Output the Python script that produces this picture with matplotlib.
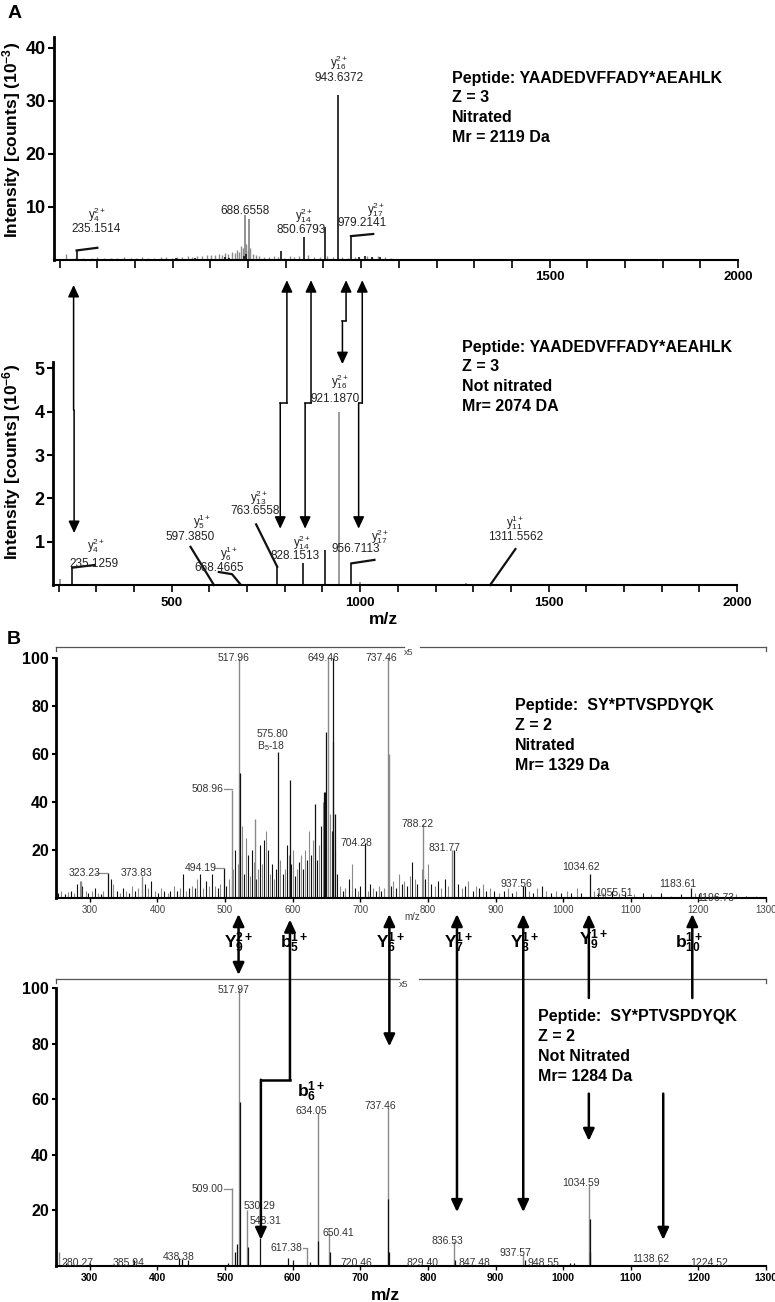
import numpy as np
import matplotlib.pyplot as plt
from matplotlib.lines import Line2D
from matplotlib.patches import FancyArrowPatch

plt.rcParams['font.family'] = ['Liberation Sans', 'DejaVu Sans']
plt.rcParams['mathtext.fontset'] = 'custom'
plt.rcParams['mathtext.rm'] = 'Liberation Sans'
plt.rcParams['mathtext.bf'] = 'Liberation Sans:bold'
plt.rcParams['mathtext.it'] = 'Liberation Sans:italic'
plt.rcParams['mathtext.default'] = 'regular'

# ---------------- panel A, top : nitrated peptide (10^-3 counts)
a_top_mz = [245, 508, 560, 640, 650, 688, 695, 787, 848, 904, 939, 973, 993, 1010, 1030, 1050]
a_top_h = [1.8, 0.4, 0.3, 0.5, 0.4, 0.8, 1.2, 1.7, 4.4, 6.3, 31, 4.5, 0.5, 0.7, 0.5, 0.6]
a_top_gray_mz = [691, 702]
a_top_gray_h = [8.5, 7.8]
a_top_noise_mz = [218, 240, 262, 285, 300, 318, 335, 352, 370, 388,
                  402, 418, 435, 450, 468, 482, 498, 512, 525, 540,
                  552, 565, 578, 590, 602, 612, 622, 632, 640, 648,
                  656, 664, 670, 676, 682, 686, 694, 699, 706, 712,
                  720, 730, 742, 755, 768, 780, 795, 810, 822, 835,
                  858, 875, 890, 910, 925, 950, 965, 985, 995, 1015,
                  1030, 1045, 1062, 1080]
a_top_noise_h = [1.1, .3, .4, .3, .5, .3, .4, .3, .5, .4,
                 .3, .5, .4, .3, .6, .5, .4, .6, .5, .7,
                 .6, .7, .8, .9, 1.0, .9, 1.1, 1.0, 1.3, 1.2,
                 1.5, 1.4, 1.8, 1.6, 2.7, 2.2, 3.0, 1.8, 2.3, 1.2,
                 1.0, .8, .6, .5, .7, .6, .4, .8, .5, .7,
                 .9, .6, .5, .7, .5, .6, .4, .6, .4, .7,
                 .6, .8, .5, .4]
a_top_lab = ['$y_4^{2+}$', '235.1514', '688.6558', '$y_{14}^{2+}$', '850.6793',
             '$y_{16}^{2+}$', '943.6372', '$y_{17}^{2+}$', '979.2141']
a_top_lab_mz = [300, 298, 691, 848, 840, 941, 941, 1040, 1003]
a_top_lab_y = [8.6, 5.8, 9.2, 8.3, 5.7, 37.2, 34.3, 9.4, 7]
a_top_leaders = [([245, 300], [1.8, 2.3]), ([973, 1032], [4.5, 4.9])]
a_top_info = ['Peptide: YAADEDVFFADY*AEAHLK', 'Z = 3', 'Nitrated', 'Mr = 2119 Da']

# ---------------- panel A, bottom : not nitrated (10^-6 counts)
a_bot_mz = [236, 780, 849, 908, 977]
a_bot_h = [0.4, 0.42, 0.5, 0.8, 0.5]
a_bot_gray_mz = [204, 420, 945, 1000, 1281]
a_bot_gray_h = [0.15, 0.03, 4.0, 0.08, 0.05]
a_bot_lab = ['$y_4^{2+}$', '235.1259', '$y_5^{1+}$', '597.3850', '$y_6^{1+}$', '668.4665',
             '$y_{13}^{2+}$', '763.6558', '$y_{14}^{2+}$', '828.1513', '$y_{16}^{2+}$',
             '921.1870', '$y_{17}^{2+}$', '956.7113', '$y_{11}^{1+}$', '1311.5562']
a_bot_lab_mz = [300, 294, 580, 548, 652, 625, 732, 721, 846, 828, 948, 934, 1052, 988, 1412, 1412]
a_bot_lab_y = [0.9, 0.49, 1.47, 1.1, 0.72, 0.39, 2.02, 1.7, 0.97, 0.67, 4.7, 4.3, 1.12, 0.83, 1.45, 1.1]
a_bot_leaders = [([236, 294], [0.4, 0.46]), ([550, 612], [0.88, 0]),
                 ([625, 660, 681], [0.30, 0.25, 0.03]), ([724, 780], [1.4, 0.42]),
                 ([977, 1038], [0.5, 0.58]), ([1412, 1345], [0.83, 0])]
a_bot_info = ['Peptide: YAADEDVFFADY*AEAHLK', 'Z = 3', 'Not nitrated', 'Mr= 2074 DA']

# arrows A: (m/z top, tip y top, m/z bottom, tip y bottom, step y on bottom axis)
a_arrows = [(237, -4.7, 241, 1.2, 4.04), (803, -3.8, 788, 1.3, 4.2),
            (867, -3.8, 854, 1.3, 4.2), (960, -3.8, 953, 5.1, 6.1),
            (1003, -3.8, 996, 1.3, 4.2)]

# ---------------- panel B, top : SY*PTVSPDYQK nitrated (relative %)
b_top_grass_mz = [253, 258, 263, 268, 272, 277, 281, 285, 289, 294,
                  298, 303, 307, 312, 316, 320, 331, 335, 340, 344,
                  349, 353, 358, 362, 367, 371, 381, 386, 390, 397,
                  401, 406, 410, 415, 419, 424, 429, 433, 438, 442,
                  447, 451, 455, 459, 463, 468, 472, 476, 481, 485,
                  489, 493, 502, 506, 510,
                  512, 515, 519, 522, 525, 528, 531, 534, 537, 540,
                  543, 546, 549, 552, 555, 558, 561, 564, 567, 570,
                  573, 576, 582, 585, 588, 591, 594, 597, 600, 603,
                  606, 609, 612, 615, 618, 621, 624, 627, 630, 636,
                  639, 642, 645, 648, 655, 658, 662, 666, 670,
                  674, 678, 683, 688, 692, 697, 700, 711, 715, 719,
                  723, 727, 731, 735, 745, 749, 753, 757, 761, 765,
                  769, 773, 777, 781, 784, 792, 796, 800,
                  805, 810, 815, 820, 825, 829, 845, 850, 855, 860,
                  866, 871, 876, 881, 886, 892, 898, 905, 912, 918,
                  925, 931, 944, 950, 956, 962, 968, 975, 982, 990,
                  997, 1005, 1012, 1020, 1027, 1045, 1052, 1062, 1072, 1082,
                  1092, 1105, 1118, 1130, 1145, 1160, 1175, 1195, 1210, 1225,
                  1240, 1255, 1270, 1285]
b_top_grass_h = [2, 3, 1.5, 2.5, 3, 2, 6, 7, 5, 3,
                 2, 3, 4, 2, 1.5, 3, 8, 6, 3, 2,
                 4, 3, 2, 5, 3, 4, 6, 4, 7, 3,
                 2, 4, 3, 2, 3, 5, 3, 4, 10, 3,
                 4, 5, 4, 8, 10, 4, 7, 5, 10, 5,
                 4, 6, 5, 8, 6,
                 12, 20, 14, 18, 30, 10, 25, 18, 9, 20,
                 15, 8, 12, 22, 14, 24, 28, 20, 10, 14,
                 8, 12, 16, 10, 12, 22, 18, 14, 20, 9,
                 12, 15, 18, 12, 20, 16, 28, 18, 24, 16,
                 22, 30, 40, 44, 35, 28, 20, 10, 5,
                 3, 4, 8, 14, 4, 3, 5, 3, 6, 4,
                 3, 5, 3, 4, 5, 7, 4, 10, 6, 7,
                 5, 9, 15, 8, 6, 12, 8, 14,
                 6, 5, 7, 4, 8, 5, 6, 4, 5, 7,
                 3, 5, 4, 6, 3, 4, 3, 2, 3, 4,
                 2, 3, 5, 3, 2, 4, 5, 3, 2, 3,
                 2, 3, 2, 4, 2, 3, 2, 2, 3, 2,
                 2, 1.5, 2, 1.5, 2, 1, 1.5, 2, 1, 1.5,
                 1, 1.5, 1, 1]
b_top_gray_mz = [287, 377, 511, 521, 544, 652, 659, 741, 742, 793, 836, 1059]
b_top_gray_h = [7, 9, 45, 100, 33, 100, 65, 100, 60, 31, 20, 2]
b_top_mz = [327, 498, 522, 579, 596, 633, 647, 650, 660, 662, 707, 839, 941, 1039, 1189, 1201]
b_top_h = [10.4, 12.5, 52, 61, 49, 39, 44, 69, 100, 35, 23, 20, 5, 10, 4, 1.5]
b_top_lab = ['517.96', '649.46', '737.46', '575.80', 'B$_5$-18', '508.96', '704.28', '788.22',
             '831.77', '1034.62', '937.56', '1055.51', '1183.61', '1196.73', '323.23',
             '373.83', '494.19']
b_top_lab_mz = [513, 645, 731, 547, 547, 498, 694, 784, 824, 1027, 931, 1075, 1170, 1225, 293, 369, 464]
b_top_lab_y = [100, 100, 100, 68.3, 63.3, 45.4, 23, 31, 21, 13, 5.8, 2, 5.8, 0, 10.4, 10.4, 12.5]
b_top_lab_ha = ['center', 'center', 'center', 'left', 'left', 'right', 'center', 'center',
                'center', 'center', 'center', 'center', 'center', 'center', 'center',
                'center', 'center']
b_top_leaders = [([499, 511], [45.4, 45.4]), ([309, 327], [10.4, 10.4]), ([484, 498], [12.5, 12.5])]
b_top_info = ['Peptide:  SY*PTVSPDYQK', 'Z = 2', 'Nitrated', 'Mr= 1329 Da']

# ---------------- panel B, bottom : not nitrated
b_bot_gray_mz = [254, 364, 511, 521, 533, 621, 637, 654, 741, 839, 941, 1038, 1142]
b_bot_gray_h = [5, 2, 28, 100, 20, 6.5, 55, 12, 57, 9, 4, 29, 2]
b_bot_mz = [265, 300, 365, 432, 437, 445, 505, 514, 518, 522, 534, 551, 593, 600, 625,
            638, 655, 741, 743, 840, 943, 1010, 1016, 1039, 1040]
b_bot_h = [1, 1, 2, 3, 2.5, 2, 1, 5, 8, 59, 7, 10, 3, 2, 1.5,
           9, 5, 24, 5, 2, 2, 1, 1, 17, 5]
b_bot_lab = ['517.97', '509.00', '530.29', '548.31', '617.38', '634.05', '650.41', '737.46',
             '720.46', '280.27', '385.94', '438.38', '829.40', '836.53', '847.48', '937.57',
             '948.55', '1034.59', '1138.62', '1224.52']
b_bot_lab_mz = [513, 498, 551, 560, 615, 627, 667, 729, 694, 281, 357, 431, 792, 829, 869,
                929, 971, 1026, 1130, 1216]
b_bot_lab_y = [99.3, 27.7, 21.6, 16.2, 6.5, 55.8, 11.9, 57.6, 1.1, 1.1, 1.1, 3.2, 1, 9, 1,
               4.7, 1, 30, 2.5, 1]
b_bot_lab_ha = ['center', 'right', 'center', 'center', 'right'] + ['center'] * 15
b_bot_leaders = [([499, 511], [27.7, 27.7]), ([616, 621], [6.5, 6.5])]
b_bot_info = ['Peptide:  SY*PTVSPDYQK', 'Z = 2', 'Not Nitrated', 'Mr= 1284 Da']

# ion labels between the B spectra
b_ions = ['$\\mathbf{Y_9^{2+}}$', '$\\mathbf{b_5^{1+}}$', '$\\mathbf{Y_6^{1+}}$', '$\\mathbf{Y_7^{1+}}$',
          '$\\mathbf{Y_8^{1+}}$', '$\\mathbf{Y_9^{1+}}$', '$\\mathbf{b_{10}^{1+}}$']
b_ions_mz = [499, 582, 723, 824, 922, 1023, 1165]
b_ions_y = [-18.7, -18.7, -18.7, -18.7, -18.7, -17.5, -18.7]

W, H = 775, 1302
fig = plt.figure(figsize=(W / 100, H / 100), dpi=100)


def add_ax(l, t, r, b):
    return fig.add_axes([l / W, 1 - b / H, (r - l) / W, (b - t) / H])


ax1 = add_ax(54, 37, 738, 260)
ax2 = add_ax(53, 362, 737, 585)
ax3 = add_ax(56, 658, 766, 898)
ax4 = add_ax(56, 988, 766, 1266)

GRAY = '#8a8a8a'
DARK = '#111111'

for ax in (ax1, ax2, ax3, ax4):
    ax.spines[['top', 'right']].set_visible(False)
    ax.spines['left'].set_linewidth(2)
    ax.spines['bottom'].set_linewidth(1.5)
    ax.patch.set_alpha(0)

# ---- A top
ax1.vlines(a_top_noise_mz, 0, a_top_noise_h, color=GRAY, lw=1)
ax1.vlines(a_top_gray_mz, 0, a_top_gray_h, color=GRAY, lw=1.3)
ax1.vlines(a_top_mz, 0, a_top_h, color=DARK, lw=1.2)
for xs, ys in a_top_leaders:
    ax1.plot(xs, ys, color=DARK, lw=1.6, clip_on=False)
for t, x, y in zip(a_top_lab, a_top_lab_mz, a_top_lab_y):
    ax1.text(x, y, t, ha='center', va='center', fontsize=8.5, color='#222222', clip_on=False)
ax1.set_xlim(185, 2000)
ax1.set_ylim(0, 42)
a_xticks = list(range(200, 2001, 100))
ax1.set_xticks(a_xticks, ['1500' if t == 1500 else '2000' if t == 2000 else '' for t in a_xticks],
               fontsize=9.5, fontweight='bold')
ax1.set_yticks([10, 20, 30, 40], ['10', '20', '30', '40'], fontsize=13, fontweight='bold')
ax1.tick_params(axis='x', direction='out', length=6, width=1.2, pad=2)
ax1.tick_params(axis='y', direction='out', length=4, width=1.5, pad=2)

# ---- A bottom
ax2.vlines(a_bot_gray_mz, 0, a_bot_gray_h, color=GRAY, lw=1.2)
ax2.vlines(a_bot_mz, 0, a_bot_h, color=DARK, lw=1.2)
for xs, ys in a_bot_leaders:
    ax2.plot(xs, ys, color=DARK, lw=1.6, clip_on=False)
for t, x, y in zip(a_bot_lab, a_bot_lab_mz, a_bot_lab_y):
    ax2.text(x, y, t, ha='center', va='center', fontsize=8.5, color='#222222', clip_on=False)
ax2.set_xlim(185, 2000)
ax2.set_ylim(0, 5.15)
ax2.set_xticks(a_xticks, [str(t) if t % 500 == 0 else '' for t in a_xticks],
               fontsize=9.5, fontweight='bold')
ax2.set_yticks([1, 2, 3, 4, 5], ['1', '2', '3', '4', '5'], fontsize=13, fontweight='bold')
ax2.tick_params(axis='x', direction='out', length=5, width=1.2, pad=4)
ax2.tick_params(axis='y', direction='out', length=4, width=1.5, pad=2)

# ---- B top
grass_col = [GRAY if i % 2 else DARK for i in range(len(b_top_grass_mz))]
ax3.vlines(b_top_grass_mz, 0, b_top_grass_h, colors=grass_col, lw=0.8)
ax3.vlines(b_top_gray_mz, 0, b_top_gray_h, color=GRAY, lw=1)
ax3.vlines(b_top_mz, 0, b_top_h, color=DARK, lw=0.9)
for xs, ys in b_top_leaders:
    ax3.plot(xs, ys, color=GRAY, lw=0.9, clip_on=False)
for t, x, y, ha in zip(b_top_lab, b_top_lab_mz, b_top_lab_y, b_top_lab_ha):
    ax3.text(x, y, t, ha=ha, va='center', fontsize=7.5, color='#333333', clip_on=False)
ax3.set_xlim(250, 1300)
ax3.set_ylim(0, 100)
b_xticks = list(range(300, 1301, 100))
ax3.set_xticks(b_xticks, [str(t) for t in b_xticks], fontsize=7, color='#444444')
ax3.set_yticks([20, 40, 60, 80, 100], ['20', '40', '60', '80', '100'], fontsize=11.5,
               fontweight='bold')
ax3.tick_params(axis='x', direction='out', length=3, width=1, pad=2)
ax3.tick_params(axis='y', direction='out', length=3, width=1.5, pad=2)
ax3.text(765, -7.8, 'm/z', fontsize=7, color='#444444', ha='left', va='center')

# ---- B bottom
ax4.vlines(b_bot_gray_mz, 0, b_bot_gray_h, color=GRAY, lw=1)
ax4.vlines(b_bot_mz, 0, b_bot_h, color=DARK, lw=0.9)
for xs, ys in b_bot_leaders:
    ax4.plot(xs, ys, color=GRAY, lw=0.9, clip_on=False)
for t, x, y, ha in zip(b_bot_lab, b_bot_lab_mz, b_bot_lab_y, b_bot_lab_ha):
    ax4.text(x, y, t, ha=ha, va='center', fontsize=7.5, color='#333333', clip_on=False)
ax4.set_xlim(250, 1300)
ax4.set_ylim(0, 100)
ax4.set_xticks(b_xticks, [str(t) for t in b_xticks], fontsize=7.5, fontweight='bold')
ax4.set_yticks([20, 40, 60, 80, 100], ['20', '40', '60', '80', '100'], fontsize=11.5,
               fontweight='bold')
ax4.tick_params(axis='x', direction='out', length=3, width=1, pad=2)
ax4.tick_params(axis='y', direction='out', length=3, width=1.5, pad=2)

# "x5" zoom brackets above the B spectra
for ax, yb, gap, yt in ((ax3, 104.6, (765, 789), 102.3), (ax4, 103.2, (757, 787), 101.3)):
    ax.plot([250, gap[0]], [yb, yb], color='#555555', lw=0.9, clip_on=False)
    ax.plot([gap[1], 1300], [yb, yb], color='#555555', lw=0.9, clip_on=False)
    ax.plot([250, 250], [yb, yb - 1.5], color='#555555', lw=0.9, clip_on=False)
    ax.plot([1300, 1300], [yb, yb - 1.5], color='#555555', lw=0.9, clip_on=False)
    ax.text(gap[0], yt, 'x5', fontsize=6.5, color='#444444', ha='left', va='center')

# ---------------- connecting arrows (figure coordinates)
inv = fig.transFigure.inverted()


def fpt(ax, x, y):
    return tuple(inv.transform(ax.transData.transform((x, y))))


def arrow(p0, p1, style, lw):
    fig.add_artist(FancyArrowPatch(p0, p1, transform=fig.transFigure,
                                   arrowstyle=style + ',head_length=0.6,head_width=0.28',
                                   mutation_scale=12, lw=lw, color='k',
                                   shrinkA=0, shrinkB=0))


def line(p0, p1, lw):
    fig.add_artist(Line2D([p0[0], p1[0]], [p0[1], p1[1]], transform=fig.transFigure,
                          color='k', lw=lw))


def step_arrow(ax_t, ax_b, mz_t, y_t, mz_b, y_b, y_step, lw):
    pt = fpt(ax_t, mz_t, y_t)
    pb = fpt(ax_b, mz_b, y_b)
    ys = fpt(ax_b, mz_b, y_step)[1]
    c1 = (pt[0], ys)
    c2 = (pb[0], ys)
    arrow(c1, pt, '-|>', lw)
    line(c1, c2, lw)
    arrow(c2, pb, '-|>', lw)


for mt, yt, mb, yb, ys in a_arrows:
    step_arrow(ax1, ax2, mt, yt, mb, yb, ys, 1.1)

# B arrows
arrow(fpt(ax3, 520, -6.7), fpt(ax4, 520, 104.7), '<|-|>', 1.8)
step_arrow(ax3, ax4, 596, -9, 553, 9.4, 67, 1.8)
arrow(fpt(ax3, 743, -6.7), fpt(ax4, 743, 79), '<|-|>', 1.8)
arrow(fpt(ax3, 843, -6.7), fpt(ax4, 843, 19.4), '<|-|>', 1.8)
arrow(fpt(ax3, 941, -6.7), fpt(ax4, 941, 19.4), '<|-|>', 1.8)
arrow(fpt(ax4, 1038, 96.4), fpt(ax3, 1038, -6.7), '-|>', 1.8)
arrow(fpt(ax4, 1038, 62), fpt(ax4, 1038, 45), '-|>', 1.8)
arrow(fpt(ax4, 1191, 96.4), fpt(ax3, 1191, -6.7), '-|>', 1.8)
arrow(fpt(ax4, 1148, 62), fpt(ax4, 1148, 9.4), '-|>', 1.8)

for t, x, y in zip(b_ions, b_ions_mz, b_ions_y):
    ax3.text(x, y, t, fontsize=12.5, ha='left', va='center', clip_on=False)
ax4.text(607, 62.6, '$\\mathbf{b_6^{1+}}$', fontsize=12.5, ha='left', va='center')

# ---------------- info text, panel letters, axis titles
for info, (x0, y0) in ((a_top_info, (452, 78)), (a_bot_info, (462, 347)),
                       (b_top_info, (515, 706)), (b_bot_info, (538, 1017))):
    for i, t in enumerate(info):
        fig.text(x0 / W, 1 - (y0 + 19.8 * i) / H, t, fontsize=11.5, fontweight='bold',
                 ha='left', va='center')

fig.text(15 / W, 1 - 13 / H, 'A', fontsize=14, fontweight='bold', ha='center', va='center')
fig.text(14 / W, 1 - 640 / H, 'B', fontsize=14, fontweight='bold', ha='center', va='center')
fig.text(12 / W, 1 - 140 / H, 'Intensity [counts] (10$^{\\mathbf{-3}}$)', rotation=90,
         fontsize=12.5, fontweight='bold', ha='center', va='center')
fig.text(12 / W, 1 - 462 / H, 'Intensity [counts] (10$^{\\mathbf{-6}}$)', rotation=90,
         fontsize=12.5, fontweight='bold', ha='center', va='center')
fig.text(383 / W, 1 - 620 / H, 'm/z', fontsize=12.5, fontweight='bold', ha='center', va='center')
fig.text(385 / W, 1 - 1295 / H, 'm/z', fontsize=12.5, fontweight='bold', ha='center', va='center')

fig.savefig('out.png', dpi=100, facecolor='white')
